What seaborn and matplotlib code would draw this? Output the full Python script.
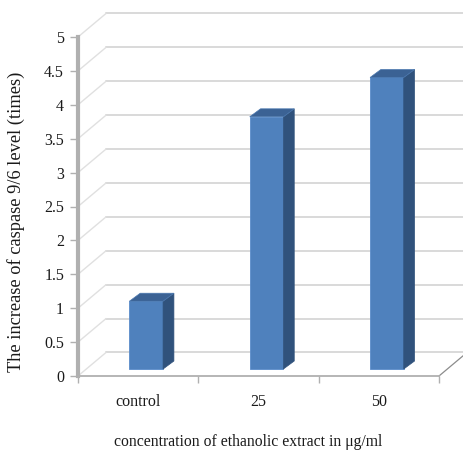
import matplotlib
matplotlib.use("Agg")
import matplotlib.pyplot as plt
from matplotlib.patches import Polygon
from matplotlib.lines import Line2D
import seaborn as sns
import pandas as pd

# Caspase 9/6 fold increase by extract concentration
categories = ["control", "25", "50"]
values = [1.0, 3.72, 4.3]
y_ticks = [0, 0.5, 1, 1.5, 2, 2.5, 3, 3.5, 4, 4.5, 5]
y_tick_labels = ["0", "0.5", "1", "1.5", "2", "2.5", "3", "3.5", "4", "4.5", "5"]

sns.set_theme(style="white")
plt.rcParams["font.family"] = ["Liberation Serif", "DejaVu Serif"]

FRONT = "#4F81BD"
SIDE = "#30527C"
TOP = "#3B6294"
GRID = "#D9D9D9"
AXIS = "#B0B0B0"
TXT = "#1A1A1A"

fig = plt.figure(figsize=(4.63, 4.53), dpi=100)
ax = fig.add_axes([78 / 463, 77 / 453, 361 / 463, 339 / 453])

df = pd.DataFrame({"conc": categories, "fold": values})
sns.barplot(data=df, x="conc", y="fold", color=FRONT, width=0.28,
            saturation=1, ax=ax, zorder=3)

ax.set_xlim(-0.5, 2.5)
ax.set_ylim(0, 5)

# pseudo-3D geometry in data units
wall_dx, wall_dy = 0.233, 0.347     # depth of floor / back wall
bar_dx, bar_dy = 0.067, 0.103       # front face of bars sits inside the floor
deep_dx, deep_dy = 0.09, 0.118      # thickness of each bar

# back wall gridlines and left wall connectors
for v in y_ticks:
    ax.add_line(Line2D([-0.5 + wall_dx, 2.75], [v + wall_dy, v + wall_dy],
                       color=GRID, lw=1.4, zorder=0, clip_on=False))
    ax.add_line(Line2D([-0.5, -0.5 + wall_dx], [v, v + wall_dy],
                       color="#E0E0E0", lw=1.0, zorder=0, clip_on=False))
# right edge of floor
ax.add_line(Line2D([2.5, 2.5 + wall_dx], [0, wall_dy], color="#8C8C8C",
                   lw=0.9, zorder=1, clip_on=False))

# shift bars back and add side / top faces
for p in ax.patches:
    x0 = p.get_x() + bar_dx
    w = p.get_width()
    h = p.get_height()
    y0 = bar_dy
    p.set_x(x0)
    p.set_y(y0)
    p.set_edgecolor("#5A8CCB")
    p.set_linewidth(0.6)
    x1 = x0 + w
    y1 = y0 + h
    side = Polygon([(x1, y0), (x1 + deep_dx, y0 + deep_dy),
                    (x1 + deep_dx, y1 + deep_dy), (x1, y1)],
                   closed=True, facecolor=SIDE, edgecolor=SIDE, lw=0.5, zorder=3,
                   clip_on=False)
    top = Polygon([(x0, y1), (x1, y1), (x1 + deep_dx, y1 + deep_dy),
                   (x0 + deep_dx, y1 + deep_dy)],
                  closed=True, facecolor=TOP, edgecolor="#4A78B0", lw=0.5, zorder=3,
                  clip_on=False)
    ax.add_patch(side)
    ax.add_patch(top)

# axes styling
for s in ["top", "right"]:
    ax.spines[s].set_visible(False)
ax.spines["left"].set_color(AXIS)
ax.spines["left"].set_linewidth(3.0)
ax.spines["bottom"].set_color(AXIS)
ax.spines["bottom"].set_linewidth(1.3)
ax.spines["left"].set_zorder(5)
ax.spines["bottom"].set_zorder(5)

ax.set_yticks(y_ticks)
ax.set_yticklabels(y_tick_labels)
ax.tick_params(axis="y", direction="out", length=6, width=1, color=AXIS,
               labelsize=11.5, labelcolor=TXT, pad=4, left=True)
ax.set_xticks(range(len(categories)))
ax.set_xticklabels(categories)
ax.set_xticks([-0.5, 0.5, 1.5, 2.5], minor=True)
ax.tick_params(axis="x", which="major", length=0, labelsize=11.5,
               labelcolor=TXT, pad=13)
ax.tick_params(axis="x", which="minor", direction="out", length=5, width=1,
               color=AXIS, bottom=True)

ax.set_xlabel("concentration of ethanolic extract in μg/ml", fontsize=11.3, color=TXT)
ax.set_ylabel("The increase of caspase 9/6 level (times)", fontsize=13.2, color=TXT)
ax.xaxis.set_label_coords(0.471, -0.172)
ax.yaxis.set_label_coords(-0.146, 0.455)

fig.savefig("out.png", dpi=100)
